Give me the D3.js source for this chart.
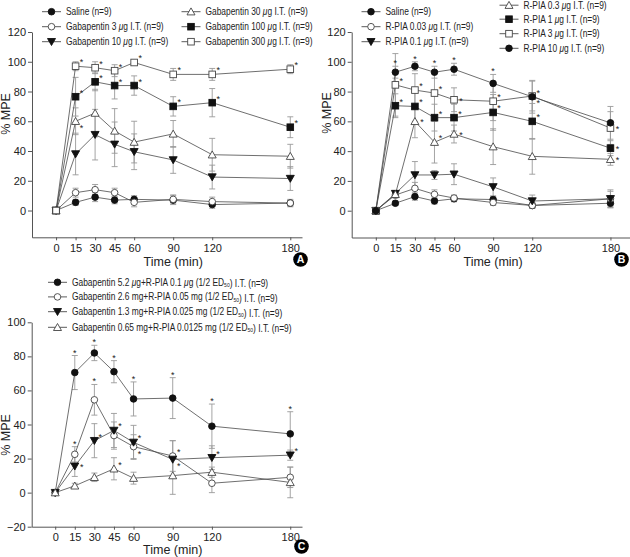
<!DOCTYPE html>
<html><head><meta charset="utf-8">
<script src="https://cdn.jsdelivr.net/npm/d3@7"></script>
<style>body{margin:0;background:#fff}svg{display:block;font-family:"Liberation Sans",Arial,sans-serif}</style>
</head><body><svg id="c" width="630" height="557"></svg>
<script>
// ---------- DATA ----------
const times = [0, 15, 30, 45, 60, 90, 120, 180];
const timeTicks = [0, 15, 30, 45, 60, 90, 120, 180];
const yTicksAB = [0, 20, 40, 60, 80, 100, 120];
const yTicksC = [-20, 0, 20, 40, 60, 80, 100];

// Panel A
const salineA = [0, 5.5, 9, 7, 7.5, 7, 4, 5];
const salineAErr = [0, 2, 3, 2.5, 2.5, 3, 2.5, 2];
const gab3 = [0, 12, 14, 12, 5.5, 7.5, 6, 5];
const gab3Err = [0, 3, 3.5, 3, 3, 3, 3, 2.5];
const gab10 = [0, 38, 51, 44.5, 39.5, 34, 22.5, 21.5];
const gab10Err = [0, 14, 17, 15, 12, 9, 8, 8];
const gab30 = [0, 60, 65.5, 53.5, 46, 51.5, 37.5, 36.5];
const gab30Err = [0, 9, 16, 15, 14, 9, 11, 8];
const gab100 = [0, 76.5, 86.5, 84, 84, 70, 72.5, 56];
const gab100Err = [0, 13, 6, 9, 6.5, 6.5, 9.5, 7];
const gab300 = [0, 97, 96, 94, 99.5, 91.5, 91.5, 95];
const gab300Err = [0, 3, 4, 4, 1, 4, 4, 3];
// significance marks: 0 none, 1 upper-right, 2 above bar, 3 lower-right, 4 right
const gab30Sig = [0, 3, 0, 0, 0, 0, 0, 0];
const gab100Sig = [0, 1, 1, 1, 1, 1, 1, 1];
const gab300Sig = [0, 1, 1, 1, 1, 1, 1, 1];
const none = [0, 0, 0, 0, 0, 0, 0, 0];

// Panel B
const salineB = [0, 5, 9.5, 6.5, 8, 7.5, 3.5, 5];
const salineBErr = [0, 1.5, 2.5, 2, 2, 2, 2, 3];
const pia003 = [0, 10.5, 15, 11, 8.5, 5.5, 3.5, 8];
const pia003Err = [0, 2, 4, 3, 2, 2, 2, 5];
const pia01 = [0, 11.5, 24, 24, 24.5, 16, 6.5, 8];
const pia01Err = [0, 2, 9, 3, 7, 6, 4, 6];
const pia03 = [0, 11, 60, 46, 51.5, 43, 36.5, 34.5];
const pia03Err = [0, 2, 11, 14, 6, 12, 12, 4];
const pia1 = [0, 70.5, 70, 62.5, 62.5, 66, 60, 42];
const pia1Err = [0, 8, 10, 9, 9, 12, 12, 5];
const pia3 = [0, 84.5, 81, 79, 74.5, 73.5, 77, 55.5];
const pia3Err = [0, 21, 11, 15, 8, 13, 10, 11];
const pia10 = [0, 93, 97, 93, 95, 85.5, 76.5, 59];
const pia10Err = [0, 4, 3, 4, 4, 6, 11, 11];
const pia03Sig = [0, 0, 4, 1, 4, 0, 0, 4];
const pia1Sig = [0, 1, 1, 1, 1, 1, 1, 4];
const pia3Sig = [0, 1, 1, 1, 4, 1, 3, 4];
const pia10Sig = [0, 2, 2, 2, 2, 2, 1, 0];

// Panel C
const c52 = [0, 70.5, 82, 71, 55, 55.5, 39, 34.5];
const c52Err = [0, 10, 4.5, 6.5, 10, 12, 13, 13];
const c26 = [0, 22.5, 54.5, 33.5, 27, 21.5, 5.5, 9];
const c26Err = [0, 4.5, 9, 8, 7, 9, 5.5, 6];
const c13 = [0, 15.5, 30.5, 36.5, 29.5, 19.5, 20.5, 22];
const c13Err = [0, 6, 10, 10, 10, 11, 7, 3];
const c065 = [0, 4, 9, 14, 8.5, 10, 12, 6];
const c065Err = [0, 1.5, 2.5, 6.5, 3.5, 11, 3, 9];
const c52Sig = [0, 2, 2, 2, 2, 2, 2, 2];
const c26Sig = [0, 2, 2, 0, 3, 1, 0, 0];
const c13Sig = [0, 4, 1, 1, 1, 3, 1, 1];
const c065Sig = [0, 0, 0, 1, 0, 0, 0, 0];

// ---------- DRAW ----------
const svg = d3.select("#c");
const LINE = "#4a4a4a", ERR = "#9a9a9a", AX = "#555", TXT = "#222";

function marker(g, type, x, y) {
  const filled = type.endsWith("F");
  const fill = filled ? "#111" : "#fff";
  const stroke = filled ? "#111" : "#444";
  let el;
  if (type.startsWith("circ")) {
    el = g.append("circle").attr("cx", x).attr("cy", y).attr("r", 3.3);
  } else if (type.startsWith("sq")) {
    el = g.append("rect").attr("x", x - 3.3).attr("y", y - 3.3).attr("width", 6.6).attr("height", 6.6);
  } else if (type.startsWith("triD")) {
    el = g.append("path").attr("d", `M${x - 4},${y - 3.2}L${x + 4},${y - 3.2}L${x},${y + 3.8}Z`);
  } else {
    el = g.append("path").attr("d", `M${x - 4},${y + 3.2}L${x + 4},${y + 3.2}L${x},${y - 3.8}Z`);
  }
  el.attr("fill", fill).attr("stroke", stroke).attr("stroke-width", 0.9);
}

function legendText(t, label) {
  const parts = label.split(/(μ|\{50\})/);
  parts.forEach(p => {
    if (p === "μ") t.append("tspan").attr("font-style", "italic").text("μ");
    else if (p === "{50}") {
      t.append("tspan").attr("font-size", 6).attr("dy", 1.5).text("50");
      t.append("tspan").attr("dy", -1.5).text("");
    }
    else if (p) t.append("tspan").text(p);
  });
}

function drawPanel(cfg) {
  const g = svg.append("g");
  const x = d3.scaleLinear().domain(cfg.xDom).range(cfg.xRange);
  const y = d3.scaleLinear().domain(cfg.yDom).range(cfg.yRange);

  // axes
  const ya = g.append("g").attr("transform", `translate(${cfg.xRange[0]},0)`)
    .call(d3.axisLeft(y).tickValues(cfg.yTicks).tickSize(4).tickSizeOuter(0).tickPadding(2));
  const xa = g.append("g").attr("transform", `translate(0,${cfg.yRange[0]})`)
    .call(d3.axisBottom(x).tickValues(timeTicks).tickSize(3).tickSizeOuter(0).tickPadding(4));
  [ya, xa].forEach(a => {
    a.selectAll("path,line").attr("stroke", AX).attr("stroke-width", 1);
    a.selectAll("text").attr("font-size", 11).attr("fill", TXT)
      .attr("font-family", '"Liberation Sans",Arial,sans-serif');
  });

  // axis titles
  g.append("text").attr("x", (x(0) + x(180)) / 2).attr("y", cfg.titleY)
    .attr("text-anchor", "middle").attr("font-size", 12.5).attr("fill", TXT).text("Time (min)");
  g.append("text").attr("transform", `translate(${cfg.yTitleX},${cfg.yTitleY}) rotate(-90)`)
    .attr("text-anchor", "middle").attr("font-size", 12.5).attr("fill", TXT).text("% MPE");

  // error bars
  cfg.series.forEach(s => {
    s.vals.forEach((v, i) => {
      const e = s.err[i]; if (!e) return;
      const xi = x(times[i]), y0 = y(v - e), y1 = y(v + e);
      g.append("line").attr("x1", xi).attr("x2", xi).attr("y1", y0).attr("y2", y1)
        .attr("stroke", ERR).attr("stroke-width", 0.9);
      [y0, y1].forEach(yy => g.append("line").attr("x1", xi - 3).attr("x2", xi + 3)
        .attr("y1", yy).attr("y2", yy).attr("stroke", ERR).attr("stroke-width", 0.9));
    });
  });
  // lines
  const lineGen = d3.line().x((d, i) => x(times[i])).y(d => y(d));
  cfg.series.forEach(s => {
    g.append("path").attr("d", lineGen(s.vals)).attr("fill", "none")
      .attr("stroke", LINE).attr("stroke-width", 0.8);
  });
  // markers
  cfg.series.forEach(s => s.vals.forEach((v, i) => marker(g, s.type, x(times[i]), y(v))));
  // asterisks
  cfg.series.forEach(s => s.sig.forEach((c, i) => {
    if (!c) return;
    const xi = x(times[i]), yi = y(s.vals[i]);
    let ax, ay;
    if (c === 1) { ax = xi + 6; ay = yi - 6; }
    else if (c === 2) { ax = xi; ay = y(s.vals[i] + s.err[i]) - 5; }
    else if (c === 3) { ax = xi + 6; ay = yi + 5; }
    else { ax = xi + 7; ay = yi - 1; }
    g.append("text").attr("x", ax).attr("y", ay + 5).attr("text-anchor", "middle")
      .attr("font-size", 9).attr("fill", TXT).text("*");
  }));

  // legend
  cfg.legend.forEach(L => {
    const s = cfg.series[L.idx];
    g.append("line").attr("x1", L.x).attr("x2", L.x + 19).attr("y1", L.y).attr("y2", L.y)
      .attr("stroke", LINE).attr("stroke-width", 0.9);
    marker(g, s.type, L.x + 9.5, L.y);
    const t = g.append("text").attr("transform", `translate(${L.x + 24},${L.y + 3.5}) scale(0.84,1)`)
      .attr("font-size", 10).attr("fill", TXT);
    legendText(t, s.label);
  });

  // panel letter
  g.append("circle").attr("cx", cfg.letter[0]).attr("cy", cfg.letter[1]).attr("r", 7.3).attr("fill", "#000");
  g.append("text").attr("x", cfg.letter[0]).attr("y", cfg.letter[1] + 3.7).attr("text-anchor", "middle")
    .attr("font-size", 10.5).attr("font-weight", "bold").attr("fill", "#fff").text(cfg.letter[2]);
}

drawPanel({
  xDom: [-18.5, 189], xRange: [32, 302], yDom: [-18, 120], yRange: [237.3, 32], yTicks: yTicksAB,
  titleY: 266, yTitleX: 10, yTitleY: 114, letter: [300.5, 259.5, "A"],
  series: [
    {label: "Saline (n=9)", vals: salineA, err: salineAErr, sig: none, type: "circF"},
    {label: "Gabapentin 3 μg I.T. (n=9)", vals: gab3, err: gab3Err, sig: none, type: "circO"},
    {label: "Gabapentin 10 μg I.T. (n=9)", vals: gab10, err: gab10Err, sig: none, type: "triDF"},
    {label: "Gabapentin 30 μg I.T. (n=9)", vals: gab30, err: gab30Err, sig: gab30Sig, type: "triUO"},
    {label: "Gabapentin 100 μg I.T. (n=9)", vals: gab100, err: gab100Err, sig: gab100Sig, type: "sqF"},
    {label: "Gabapentin 300 μg I.T. (n=9)", vals: gab300, err: gab300Err, sig: gab300Sig, type: "sqO"}
  ],
  legend: [
    {idx: 0, x: 42, y: 11.7}, {idx: 1, x: 42, y: 26.7}, {idx: 2, x: 42, y: 41.7},
    {idx: 3, x: 181.5, y: 11.7}, {idx: 4, x: 181.5, y: 26.7}, {idx: 5, x: 181.5, y: 41.7}
  ]
});

drawPanel({
  xDom: [-18.5, 195], xRange: [351.7, 630], yDom: [-18, 120], yRange: [237.5, 32], yTicks: yTicksAB,
  titleY: 266, yTitleX: 331, yTitleY: 113, letter: [621.5, 259.5, "B"],
  series: [
    {label: "Saline (n=9)", vals: salineB, err: salineBErr, sig: none, type: "circF"},
    {label: "R-PIA 0.03 μg I.T. (n=9)", vals: pia003, err: pia003Err, sig: none, type: "circO"},
    {label: "R-PIA 0.1 μg I.T. (n=9)", vals: pia01, err: pia01Err, sig: none, type: "triDF"},
    {label: "R-PIA 0.3 μg I.T. (n=9)", vals: pia03, err: pia03Err, sig: pia03Sig, type: "triUO"},
    {label: "R-PIA 1 μg I.T. (n=9)", vals: pia1, err: pia1Err, sig: pia1Sig, type: "sqF"},
    {label: "R-PIA 3 μg I.T. (n=9)", vals: pia3, err: pia3Err, sig: pia3Sig, type: "sqO"},
    {label: "R-PIA 10 μg I.T. (n=9)", vals: pia10, err: pia10Err, sig: pia10Sig, type: "circF"}
  ],
  legend: [
    {idx: 0, x: 361.5, y: 11.7}, {idx: 1, x: 361.5, y: 26.7}, {idx: 2, x: 361.5, y: 41.7},
    {idx: 3, x: 499.5, y: 5.2}, {idx: 4, x: 499.5, y: 19.2}, {idx: 5, x: 499.5, y: 33.7}, {idx: 6, x: 499.5, y: 48.3}
  ]
});

drawPanel({
  xDom: [-18, 189], xRange: [31.7, 302], yDom: [-20, 100], yRange: [526.7, 322.3], yTicks: yTicksC,
  titleY: 553.5, yTitleX: 10, yTitleY: 435, letter: [301.5, 546.5, "C"],
  series: [
    {label: "Gabapentin 5.2 μg+R-PIA 0.1 μg (1/2 ED{50}) I.T. (n=9)", vals: c52, err: c52Err, sig: c52Sig, type: "circF"},
    {label: "Gabapentin 2.6 mg+R-PIA 0.05 mg (1/2 ED{50}) I.T. (n=9)", vals: c26, err: c26Err, sig: c26Sig, type: "circO"},
    {label: "Gabapentin 1.3 mg+R-PIA 0.025 mg (1/2 ED{50}) I.T. (n=9)", vals: c13, err: c13Err, sig: c13Sig, type: "triDF"},
    {label: "Gabapentin 0.65 mg+R-PIA 0.0125 mg (1/2 ED{50}) I.T. (n=9)", vals: c065, err: c065Err, sig: c065Sig, type: "triUO"}
  ],
  legend: [
    {idx: 0, x: 48, y: 282.3}, {idx: 1, x: 48, y: 296.9}, {idx: 2, x: 48, y: 311.7}, {idx: 3, x: 48, y: 327.3}
  ]
});
</script></body></html>
